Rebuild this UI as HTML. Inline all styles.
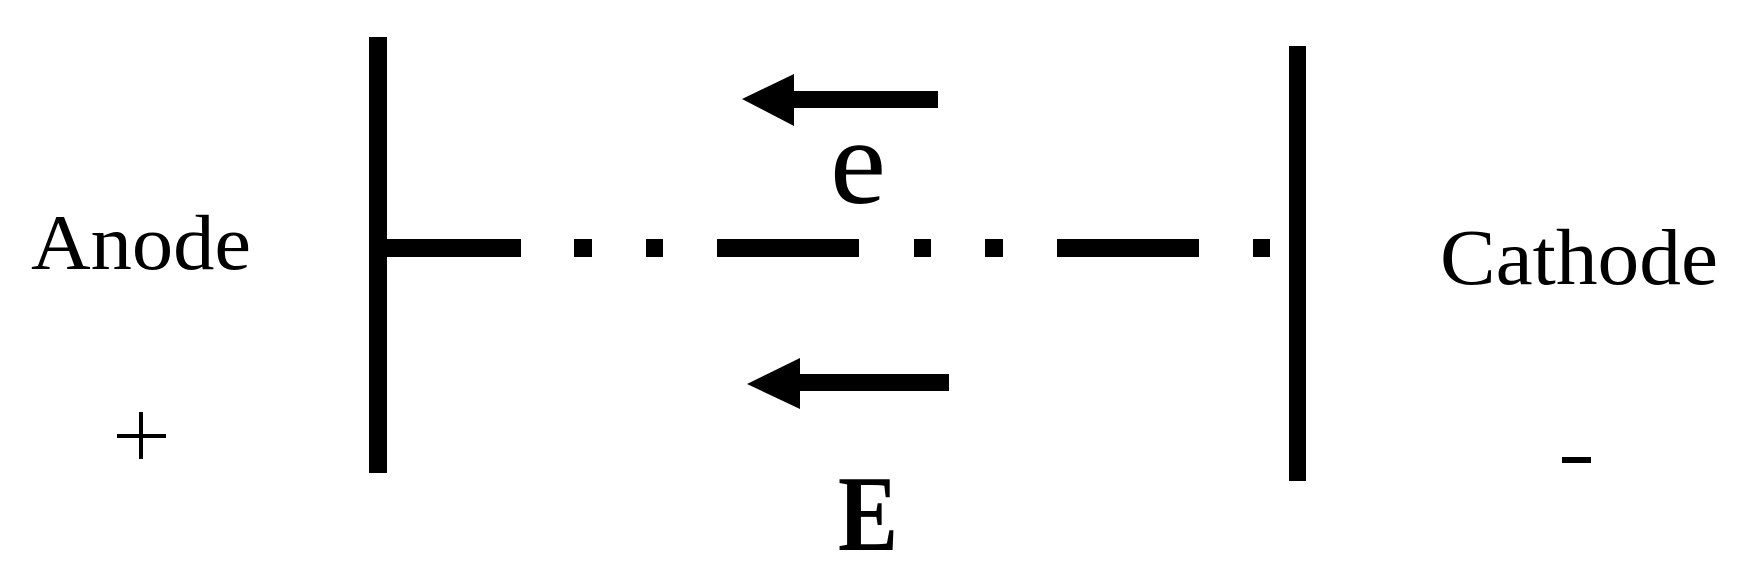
<!DOCTYPE html>
<html><head><meta charset="utf-8"><style>html,body{margin:0;padding:0;background:#fff;}svg{display:block;}</style></head>
<body>
<svg width="1745" height="568" viewBox="0 0 1745 568" xmlns="http://www.w3.org/2000/svg">
<rect width="1745" height="568" fill="#fff"/>
<g fill="#000">
<rect x="369" y="37" width="18" height="436"/>
<rect x="1289" y="46" width="17" height="435"/>
<rect x="387" y="239" width="134" height="18"/>
<rect x="574" y="239" width="18" height="18"/>
<rect x="646" y="239" width="17" height="18"/>
<rect x="717" y="239" width="142" height="18"/>
<rect x="914" y="239" width="17" height="18"/>
<rect x="985" y="239" width="18" height="18"/>
<rect x="1057" y="239" width="142" height="18"/>
<rect x="1253" y="239" width="17" height="18"/>
<polygon points="742,99 794,74 794,91 938,91 938,108 794,108 794,126"/>
<polygon points="747,384 800,358 800,374 949,374 949,391 800,391 800,409"/>
<rect x="1562" y="457" width="29" height="6"/>
<rect x="117" y="434" width="49" height="4"/>
<rect x="139" y="412" width="4" height="47"/>
</g>
<g font-family="Liberation Serif, serif" fill="#000">
<text x="31" y="269" font-size="78" textLength="220" lengthAdjust="spacingAndGlyphs">Anode</text>
<text x="1440" y="284" font-size="79" textLength="278" lengthAdjust="spacingAndGlyphs">Cathode</text>
<text x="830" y="203" font-size="122" textLength="56" lengthAdjust="spacingAndGlyphs">e</text>
<text x="838" y="550" font-size="108" font-weight="bold" textLength="60" lengthAdjust="spacingAndGlyphs">E</text>
</g>
</svg>
</body></html>
